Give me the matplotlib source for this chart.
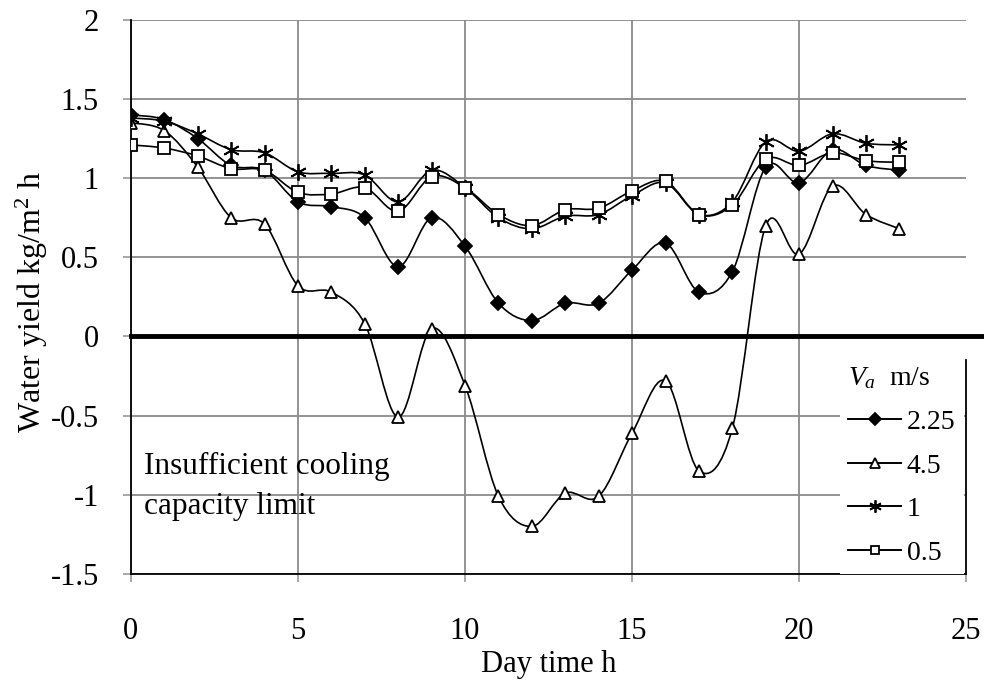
import numpy as np
import matplotlib
matplotlib.use("Agg")
import matplotlib.pyplot as plt
from matplotlib.path import Path
from matplotlib.patches import PathPatch
from matplotlib.lines import Line2D

plt.rcParams['font.family'] = ['Liberation Serif', 'DejaVu Serif']
plt.rcParams['mathtext.fontset'] = 'custom'
plt.rcParams['mathtext.rm'] = 'Liberation Serif'
plt.rcParams['mathtext.it'] = 'Liberation Serif:italic'
plt.rcParams['axes.unicode_minus'] = False

# Hour of day
hours = list(range(24))

# Water yield for each air velocity V_a (m/s)
y_225 = [1.40, 1.37, 1.25, 1.08, 1.05, 0.85, 0.82, 0.75, 0.44, 0.75, 0.57, 0.21,
         0.10, 0.21, 0.21, 0.42, 0.59, 0.28, 0.41, 1.07, 0.97, 1.18, 1.08, 1.05]
y_45 = [1.35, 1.30, 1.07, 0.75, 0.71, 0.32, 0.28, 0.08, -0.51, 0.05, -0.31, -1.01,
        -1.20, -0.99, -1.01, -0.61, -0.28, -0.85, -0.58, 0.70, 0.52, 0.95, 0.77, 0.68]
y_1 = [1.38, 1.36, 1.28, 1.18, 1.16, 1.04, 1.03, 1.02, 0.85, 1.05, 0.94, 0.75,
       0.68, 0.76, 0.77, 0.89, 0.97, 0.77, 0.85, 1.23, 1.17, 1.28, 1.22, 1.21]
y_05 = [1.21, 1.19, 1.14, 1.06, 1.05, 0.91, 0.90, 0.94, 0.79, 1.01, 0.94, 0.77,
        0.70, 0.80, 0.81, 0.92, 0.98, 0.77, 0.83, 1.12, 1.08, 1.16, 1.11, 1.10]

labels = ['2.25', '4.5', '1', '0.5']


def smooth_path(xs, ys):
    # Excel style smoothed line: cubic Bezier segments through the points
    p = np.column_stack([xs, ys]).astype(float)
    n = len(p)
    verts = [p[0]]
    codes = [Path.MOVETO]
    for i in range(n - 1):
        p0 = p[i - 1] if i > 0 else p[i]
        p1 = p[i]
        p2 = p[i + 1]
        p3 = p[i + 2] if i + 2 < n else p[i + 1]
        verts += [p1 + (p2 - p0) / 6.0, p2 - (p3 - p1) / 6.0, p2]
        codes += [Path.CURVE4] * 3
    return Path(verts, codes)


fig = plt.figure(figsize=(9.84, 6.84), dpi=100)
ax = fig.add_axes([0.133, 0.161, 0.849, 0.810])

styles = [
    dict(marker='D', markersize=7, markerfacecolor='black'),
    dict(marker='^', markersize=9, markerfacecolor='white'),
    dict(marker=(6, 2, 0), markersize=12, markerfacecolor='black'),
    dict(marker='s', markersize=8, markerfacecolor='white'),
]
leg_styles = [
    dict(marker='D', markersize=6, markerfacecolor='black'),
    dict(marker='^', markersize=7, markerfacecolor='white'),
    dict(marker=(6, 2, 0), markersize=9, markerfacecolor='black'),
    dict(marker='s', markersize=6, markerfacecolor='white'),
]
series = [y_225, y_45, y_1, y_05]

handles = []
for ys, st, lst, lab in zip(series, styles, leg_styles, labels):
    ax.add_patch(PathPatch(smooth_path(hours, ys), fill=False,
                           edgecolor='black', lw=1.2, zorder=3))
    ax.plot(hours, ys, linestyle='none', color='black', markeredgecolor='black',
            markeredgewidth=1.3, zorder=4, **st)
    handles.append(Line2D([], [], color='black', lw=1.4, markeredgecolor='black',
                          markeredgewidth=1.3, **lst))

ax.set_xlim(0, 25)
ax.set_ylim(-1.5, 2)
ax.set_xticks([0, 5, 10, 15, 20, 25])
ax.set_yticks([-1.5, -1, -0.5, 0, 0.5, 1, 1.5, 2])
ax.set_yticklabels(['-1.5', '-1', '-0.5', '0', '0.5', '1', '1.5', '2'])
ax.grid(True, color='#8a8a8a', lw=1.3, zorder=1)
ax.xaxis.get_gridlines()[-1].set_visible(False)
ax.set_axisbelow(True)

# thick zero line running past the plot edge
ax.plot([0, 25.9], [0, 0], color='black', lw=3.5, clip_on=False, zorder=2)

ax.spines['top'].set_visible(False)
ax.spines['right'].set_bounds(-1.5, -0.15)
for s in ['left', 'bottom', 'right']:
    ax.spines[s].set_color('black')
    ax.spines[s].set_linewidth(1.3)

ax.tick_params(axis='both', direction='out', length=6, width=1.2,
               color='#9a9a9a', labelsize=22)
ax.tick_params(axis='y', pad=17)
ax.tick_params(axis='x', pad=25)

ax.set_xlabel('Day time h', fontsize=22)
ax.xaxis.set_label_coords(0.5, -0.138)
ax.set_ylabel('Water yield kg/m$^{2}$ h', fontsize=23)
ax.yaxis.set_label_coords(-0.097, 0.49)

ax.text(0.4, -0.95, 'Insufficient cooling\ncapacity limit', fontsize=22.5,
        va='center', ha='left', linespacing=1.5, zorder=5)

leg = ax.legend(handles, labels, title='$V_a$  m/s', loc='lower right',
                bbox_to_anchor=(0.997, 0.0), fontsize=20, title_fontsize=20,
                frameon=True, facecolor='white', edgecolor='none', framealpha=1,
                handlelength=1.9, labelspacing=0.65, borderaxespad=0.0,
                borderpad=0.3, handletextpad=0.2, fancybox=False,
                alignment='left')
leg.set_zorder(6)

fig.savefig('out.png', dpi=100)
